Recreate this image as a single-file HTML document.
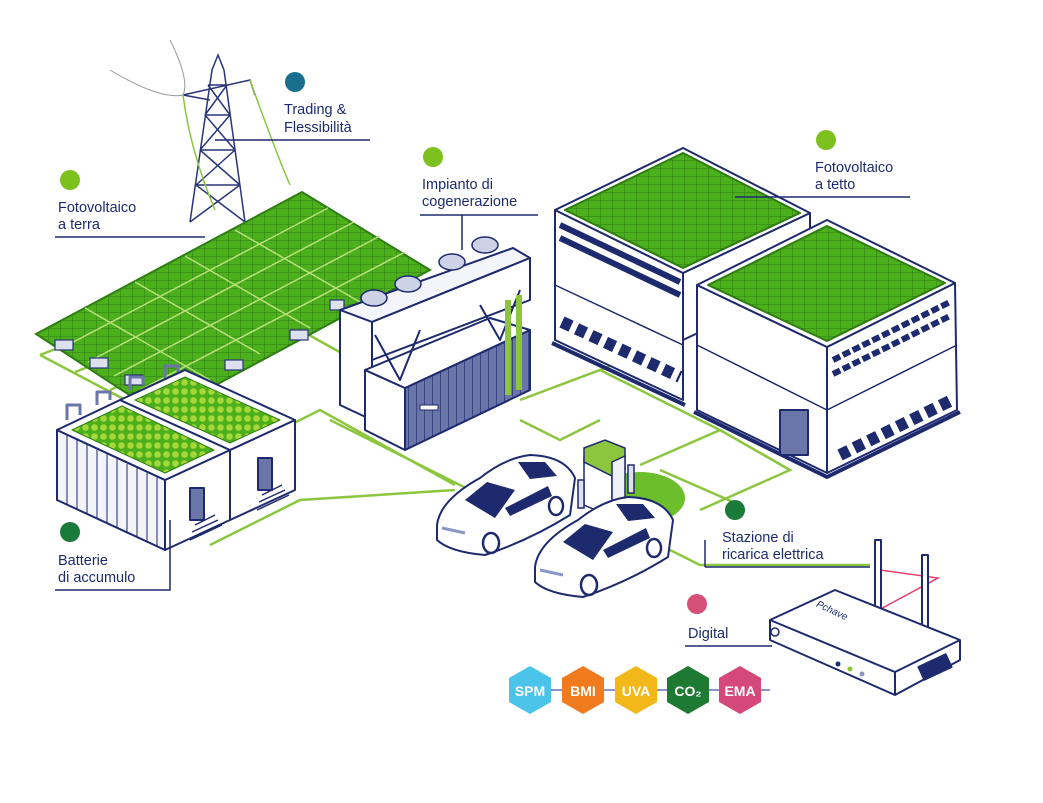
<!DOCTYPE html>
<html><head><meta charset="utf-8"><style>
html,body{margin:0;padding:0;background:#fff}
svg{display:block}
text{font-family:"Liberation Sans",sans-serif;fill:#1e2a6e;font-size:14.5px}
</style></head><body>
<svg width="1043" height="803" viewBox="0 0 1043 803" xmlns="http://www.w3.org/2000/svg">
<defs>
<pattern id="pv" width="12" height="8" patternUnits="userSpaceOnUse">
<rect width="12" height="8" fill="#4caf1c"/><path d="M0 0H12M0 0V8" stroke="#2e7d12" stroke-width="1"/>
</pattern>
<pattern id="dots" width="9" height="9" patternUnits="userSpaceOnUse">
<rect width="9" height="9" fill="#4caf1c"/><circle cx="4.5" cy="4.5" r="3.3" fill="#a6d83a"/>
</pattern>
<pattern id="ribs" width="8" height="10" patternUnits="userSpaceOnUse">
<rect width="8" height="10" fill="#6a75a8"/><path d="M0 0V10" stroke="#2a3578" stroke-width="1.5"/>
</pattern>
<g id="car">
<path d="M437 525 Q440 500 480 478 Q505 458 530 455 Q565 456 575 478 L570 515 Q530 540 485 555 Q450 552 437 540 Z" fill="#fff" stroke="#1e2a6e" stroke-width="2" stroke-linejoin="round"/>
<polygon points="465,500 487,482 515,490 495,518" fill="#1e2a6e"/>
<polygon points="518,462 545,462 557,476 530,479" fill="#1e2a6e"/>
<polygon points="505,508 548,486 552,496 510,516" fill="#1e2a6e"/>
<path d="M442 528 L465 533" stroke="#8a96c8" stroke-width="3"/>
<ellipse cx="491" cy="543" rx="8" ry="10" fill="#fff" stroke="#1e2a6e" stroke-width="2.5"/>
<ellipse cx="556" cy="506" rx="7" ry="9" fill="#fff" stroke="#1e2a6e" stroke-width="2.5"/>
</g>
</defs>

<!-- green ground network -->
<g stroke="#8cc63f" stroke-width="2.5" fill="none">
<path d="M40 355 L230 455 M40 355 L130 320 M75 372 L170 335 M110 390 L200 350 M150 410 L230 375"/>
<path d="M230 455 L320 410 L455 485 M300 330 L390 380 M330 420 L470 490"/>
<path d="M210 545 L300 500 L455 490"/>
<path d="M520 400 L600 370 L720 430 L640 465 M600 370 L700 330 M720 430 L790 470 L700 510"/>
<path d="M660 470 L740 505 M520 420 L560 440 L600 420"/>
<path d="M650 540 L700 565 L870 565"/>
</g>

<!-- power tower -->
<g stroke="#2a3578" stroke-width="1.5" fill="none">
<path d="M190 222 L212 70 L218 55 L224 70 L245 222"/>
<path d="M200 150 L235 150 M205 115 L230 115 M196 185 L240 185 M208 85 L227 85"/>
<path d="M200 150 L230 115 M235 150 L205 115 M196 185 L235 150 M240 185 L200 150 M190 222 L240 185 M245 222 L196 185 M205 115 L227 85 M230 115 L208 85"/>
<path d="M183 95 L250 80 L255 95 M183 95 L210 100"/>
</g>
<path d="M170 40 Q190 80 183 95 M110 70 Q160 100 183 95" stroke="#999" stroke-width="1" fill="none"/>
<path d="M183 95 Q190 150 215 210 M250 80 Q275 150 290 185" stroke="#8cc63f" stroke-width="1.5" fill="none"/>

<!-- ground solar array -->
<g>
<polygon points="36,334 302,192 430,270 160,415" fill="url(#pv)" stroke="#2e7d12" stroke-width="2"/>
<path d="M62 348 L328 208 M88 362 L354 222 M114 376 L380 236 M140 390 L405 252" stroke="#b8e07a" stroke-width="1.5"/>
<path d="M85 308 L210 380 M135 282 L260 354 M185 256 L310 328 M235 230 L360 302" stroke="#b8e07a" stroke-width="1.5"/>
<g fill="#dde0ee" stroke="#2a3578" stroke-width="1.2">
<rect x="55" y="340" width="18" height="10"/><rect x="90" y="358" width="18" height="10"/><rect x="125" y="375" width="18" height="10"/>
<rect x="225" y="360" width="18" height="10"/><rect x="290" y="330" width="18" height="10"/><rect x="330" y="300" width="14" height="10"/>
</g>
</g>

<!-- cogeneration -->
<g stroke="#1e2a6e" stroke-width="2" stroke-linejoin="round">
<polygon points="340,310 513,248 530,258 372,322" fill="#f4f5fa"/>
<polygon points="340,310 372,322 372,420 340,405" fill="#fff"/>
<polygon points="372,322 530,258 530,300 372,360" fill="#fff"/>
<polygon points="365,370 405,388 405,450 365,430" fill="#fff"/>
<polygon points="405,388 530,330 530,390 405,450" fill="url(#ribs)"/>
<polygon points="365,370 490,318 530,330 405,388" fill="#fff"/>
<path d="M375 335 L400 380 L420 330 M480 305 L500 340 L520 290" fill="none"/>
<rect x="505" y="300" width="6" height="95" fill="#8cc63f" stroke="none"/>
<rect x="516" y="295" width="6" height="95" fill="#8cc63f" stroke="none"/>
<rect x="420" y="405" width="18" height="5" fill="#fff" stroke-width="1"/>
</g>
<g fill="#cdd2e6" stroke="#1e2a6e" stroke-width="1.5">
<ellipse cx="374" cy="298" rx="13" ry="8"/><ellipse cx="408" cy="284" rx="13" ry="8"/>
<ellipse cx="452" cy="262" rx="13" ry="8"/><ellipse cx="485" cy="245" rx="13" ry="8"/>
</g>

<!-- building 1 -->
<g stroke="#1e2a6e" stroke-width="2" stroke-linejoin="round">
<polygon points="555,210 555,340 683,400 683,273" fill="#fff"/>
<polygon points="683,273 810,213 810,280 683,340" fill="#fff"/>
<polygon points="555,210 683,148 810,213 683,273" fill="#fff"/>
<polygon points="565,210 683,153 800,213 683,268" fill="url(#pv)" stroke="#2e7d12"/>
<path d="M560 225 L680 282 M560 238 L680 295" stroke="#1e2a6e" stroke-width="6"/>
<path d="M555 285 L683 345" stroke-width="1.5"/>
<path d="M562 322 L680 377" stroke="#1e2a6e" stroke-width="12" stroke-dasharray="10 6"/>
<path d="M552 343 L685 405" stroke-width="4"/>
</g>
<!-- building 2 -->
<g stroke="#1e2a6e" stroke-width="2" stroke-linejoin="round">
<polygon points="697,285 697,410 827,473 827,347" fill="#fff"/>
<polygon points="827,347 955,283 957,410 827,473" fill="#fff"/>
<polygon points="697,285 827,220 955,283 827,347" fill="#fff"/>
<polygon points="708,285 827,226 945,283 827,341" fill="url(#pv)" stroke="#2e7d12"/>
<path d="M833 360 L950 302 M833 374 L950 316" stroke="#1e2a6e" stroke-width="6" stroke-dasharray="8 3"/>
<path d="M697 345 L827 410 L957 345" fill="none" stroke-width="1.5"/>
<path d="M840 455 L952 400" stroke="#1e2a6e" stroke-width="12" stroke-dasharray="10 6"/>
<path d="M694 412 L827 477 L960 412" fill="none" stroke-width="4"/>
<rect x="780" y="410" width="28" height="45" fill="#6a75a8"/>
</g>

<!-- battery containers -->
<g stroke="#1e2a6e" stroke-width="2" stroke-linejoin="round">
<polygon points="57,430 165,480 165,550 57,500" fill="#f3f4f8"/>
<path d="M67 435 V504 M77 440 V509 M87 445 V513 M97 450 V518 M107 454 V523 M117 459 V528 M127 464 V532 M137 468 V537 M147 473 V541 M157 477 V546" stroke-width="1"/>
<polygon points="165,480 230,450 230,520 165,550" fill="#fff"/>
<polygon points="57,430 120,400 230,450 165,480" fill="#fff"/>
<polygon points="72,430 122,406 214,450 165,473" fill="url(#dots)" stroke="#2e7d12" stroke-width="1"/>
<polygon points="230,450 295,420 295,490 230,520" fill="#fff"/>
<polygon points="120,400 185,370 295,420 230,450" fill="#fff"/>
<polygon points="135,400 185,377 280,420 230,443" fill="url(#dots)" stroke="#2e7d12" stroke-width="1"/>
<rect x="190" y="488" width="14" height="32" fill="#6a75a8"/>
<rect x="258" y="458" width="14" height="32" fill="#6a75a8"/>
<path d="M195 525 L215 515 M192 532 L218 520 M190 540 L222 525" stroke-width="1.5"/>
<path d="M262 495 L282 485 M259 502 L285 490 M257 510 L289 495" stroke-width="1.5"/>
<path d="M67 420 V405 H80 V415 M97 405 V392 H110 V400 M130 390 V377 H143 V385 M165 378 V366 H178 V372" fill="none" stroke="#6a75a8" stroke-width="3"/>
</g>

<!-- charger pad and charger -->
<ellipse cx="640" cy="498" rx="45" ry="26" fill="#6cbf2a"/>
<g stroke="#1e2a6e" stroke-width="1.5">
<polygon points="584,458 584,505 600,512 612,506 612,460" fill="#fff"/>
<polygon points="584,448 605,440 625,448 625,470 612,476 584,462" fill="#8cc63f"/>
<polygon points="612,462 625,456 625,500 612,506" fill="#eef0f6"/>
<rect x="628" y="465" width="6" height="28" fill="#dde0ee"/>
<rect x="578" y="480" width="6" height="28" fill="#dde0ee"/>
</g>
<!-- cars -->
<use href="#car"/>
<use href="#car" transform="translate(98,42)"/>

<!-- router -->
<path d="M880 570 L938 578 L875 612" stroke="#e0406a" stroke-width="1.5" fill="none"/>
<g stroke="#1e2a6e" stroke-width="2" stroke-linejoin="round">
<rect x="875" y="540" width="6" height="72" fill="#fff"/>
<rect x="922" y="555" width="6" height="72" fill="#fff"/>
<polygon points="770,620 835,590 960,640 960,660 895,695 770,640" fill="#fff"/>
<path d="M770 620 L895 672 L960 640 M895 672 V695" fill="none"/>
<rect x="920" y="660" width="30" height="14" fill="#1e2a6e" transform="rotate(-25 935 667)"/>
</g>
<text x="815" y="615" transform="rotate(25 835 612)" style="fill:#1e2a6e;font-size:10px;font-style:italic">Pchave</text>
<circle cx="775" cy="632" r="4" fill="none" stroke="#1e2a6e" stroke-width="1.5"/>
<circle cx="838" cy="664" r="2.5" fill="#1e2a6e"/><circle cx="850" cy="669" r="2.5" fill="#8cc63f"/><circle cx="862" cy="674" r="2.5" fill="#8a96c8"/>

<!-- hexagons -->
<path d="M510 690 H770" stroke="#8a96c8" stroke-width="2"/>
<g>
<polygon points="530,666 551,678 551,702 530,714 509,702 509,678" fill="#4cc3e8"/>
<polygon points="583,666 604,678 604,702 583,714 562,702 562,678" fill="#f07a1e"/>
<polygon points="636,666 657,678 657,702 636,714 615,702 615,678" fill="#f2b81a"/>
<polygon points="688,666 709,678 709,702 688,714 667,702 667,678" fill="#1e7a32"/>
<polygon points="740,666 761,678 761,702 740,714 719,702 719,678" fill="#d4497a"/>
</g>
<g text-anchor="middle">
<text x="530" y="696" style="fill:#fff;font-size:14px;font-weight:bold">SPM</text>
<text x="583" y="696" style="fill:#fff;font-size:14px;font-weight:bold">BMI</text>
<text x="636" y="696" style="fill:#fff;font-size:14px;font-weight:bold">UVA</text>
<text x="688" y="696" style="fill:#fff;font-size:14px;font-weight:bold">CO₂</text>
<text x="740" y="696" style="fill:#fff;font-size:14px;font-weight:bold">EMA</text>
</g>

<!-- labels -->
<g stroke="#1e2a6e" stroke-width="1.5" fill="none">
<path d="M215 140 H370"/>
<path d="M55 237 H205"/>
<path d="M420 215 H538 M462 215 V250"/>
<path d="M735 197 H910"/>
<path d="M55 590 H170 V520"/>
<path d="M705 567 H870 M705 567 V540"/>
<path d="M685 646 H772"/>
</g>
<circle cx="295" cy="82" r="10" fill="#1a6e8e"/>
<text x="284" y="114">Trading &amp;</text><text x="284" y="132">Flessibilità</text>
<circle cx="70" cy="180" r="10" fill="#7dc11f"/>
<text x="58" y="212">Fotovoltaico</text><text x="58" y="229">a terra</text>
<circle cx="433" cy="157" r="10" fill="#7dc11f"/>
<text x="422" y="189">Impianto di</text><text x="422" y="206">cogenerazione</text>
<circle cx="826" cy="140" r="10" fill="#7dc11f"/>
<text x="815" y="172">Fotovoltaico</text><text x="815" y="189">a tetto</text>
<circle cx="70" cy="532" r="10" fill="#1a7a3a"/>
<text x="58" y="565">Batterie</text><text x="58" y="582">di accumulo</text>
<circle cx="735" cy="510" r="10" fill="#1a7a3a"/>
<text x="722" y="542">Stazione di</text><text x="722" y="559">ricarica elettrica</text>
<circle cx="697" cy="604" r="10" fill="#d6507a"/>
<text x="688" y="638">Digital</text>
</svg>
</body></html>
